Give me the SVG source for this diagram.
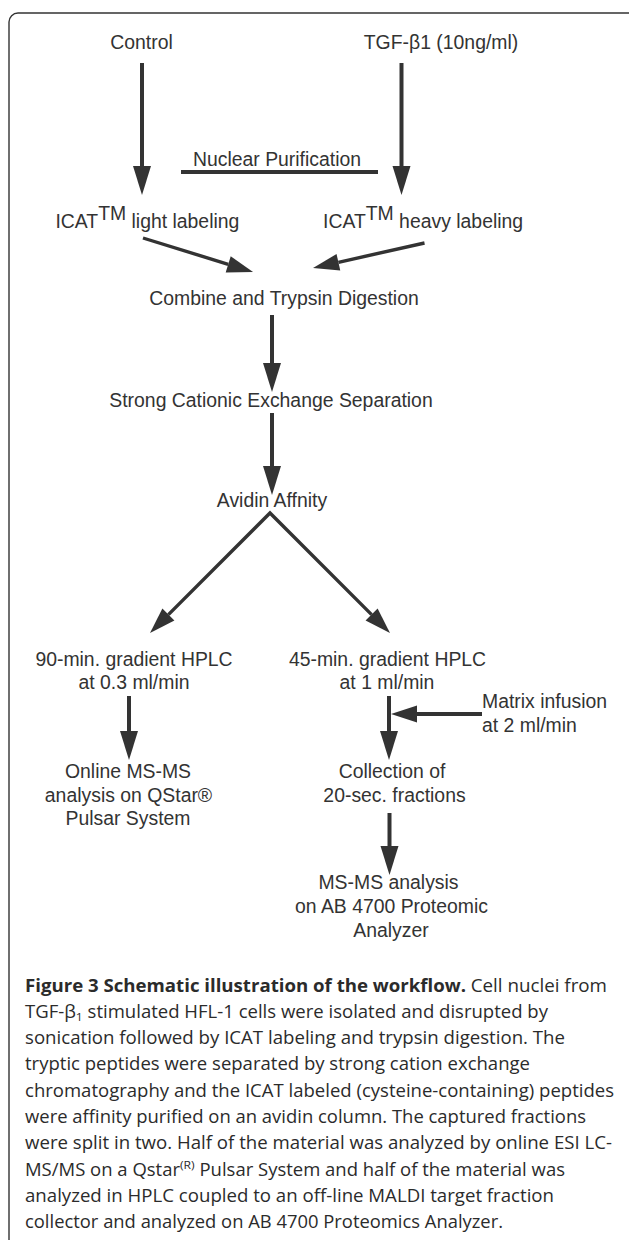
<svg xmlns="http://www.w3.org/2000/svg" width="629" height="1240" viewBox="0 0 629 1240">
<style>
.t{font-family:"Liberation Sans",Arial,sans-serif;font-size:19.4px;fill:#333}
.m{text-anchor:middle}
.c{font-family:"Open Sans","Noto Sans",sans-serif;font-size:17.5px;fill:#2b2b2b}
.b{font-weight:700}
.ln{stroke:#333;stroke-width:4;fill:none}
.dg{stroke:#333;stroke-width:3.4;fill:none}
</style>
<defs>
<marker id="ah" markerUnits="userSpaceOnUse" viewBox="0 -10 30 20" markerWidth="30" markerHeight="20" refX="0" refY="0" orient="auto-start-reverse" overflow="visible">
<path d="M0,-9 L29,0 L0,9 Z" fill="#333"/>
</marker>
<marker id="ah2" markerUnits="userSpaceOnUse" viewBox="0 -10 30 20" markerWidth="30" markerHeight="20" refX="0" refY="0" orient="auto-start-reverse" overflow="visible">
<path d="M0,-8.5 L26,0 L0,8.5 Z" fill="#333"/>
</marker>
</defs>
<rect x="9" y="13" width="628" height="1250" rx="9" fill="none" stroke="#333" stroke-width="1.4"/>
<g id="connectors">
<line class="ln" x1="142" y1="63" x2="142" y2="166" marker-end="url(#ah)"/>
<line class="ln" x1="401.5" y1="63" x2="401.5" y2="166" marker-end="url(#ah)"/>
<line class="ln" x1="181" y1="172" x2="378" y2="172" stroke-width="3.5"/>
<line class="dg" x1="143" y1="238" x2="228.2" y2="264.3" marker-end="url(#ah2)"/>
<line class="dg" x1="424.5" y1="243" x2="338.4" y2="262.3" marker-end="url(#ah2)"/>
<line class="ln" x1="272" y1="315" x2="272" y2="363" marker-end="url(#ah)"/>
<line class="ln" x1="272" y1="413" x2="272" y2="466" marker-end="url(#ah)"/>
<path class="dg" d="M168.4,614.6 L270,513 L371.6,614.6" stroke-width="3" stroke-miterlimit="10" marker-start="url(#ah2)" marker-end="url(#ah2)"/>
<line class="ln" x1="129" y1="696" x2="129" y2="731" marker-end="url(#ah)"/>
<line class="ln" x1="389" y1="696" x2="389" y2="731" marker-end="url(#ah)"/>
<line class="ln" x1="482" y1="714" x2="417" y2="714" marker-end="url(#ah2)"/>
<line class="ln" x1="389.5" y1="813" x2="389.5" y2="846" marker-end="url(#ah)"/>
</g>
<g id="control"><text class="t m" x="141.5" y="49">Control</text></g>
<g id="tgf"><text class="t m" x="441" y="49">TGF-β1 (10ng/ml)</text></g>
<g id="nuclear"><text class="t m" x="277" y="166">Nuclear Purification</text></g>
<g id="icat-light"><text class="t" x="55.4" y="228">ICAT<tspan dy="-8">TM</tspan><tspan dy="8"> light labeling</tspan></text></g>
<g id="icat-heavy"><text class="t" x="323" y="228">ICAT<tspan dy="-8">TM</tspan><tspan dy="8"> heavy labeling</tspan></text></g>
<g id="combine"><text class="t m" x="284" y="305">Combine and Trypsin Digestion</text></g>
<g id="sce"><text class="t m" x="271" y="407">Strong Cationic Exchange Separation</text></g>
<g id="avidin"><text class="t m" x="272" y="507">Avidin Affnity</text></g>
<g id="hplc90"><text class="t m" x="134" y="666">90-min. gradient HPLC</text><text class="t m" x="134" y="689">at 0.3 ml/min</text></g>
<g id="hplc45"><text class="t m" x="387.5" y="666">45-min. gradient HPLC</text><text class="t m" x="387" y="689">at 1 ml/min</text></g>
<g id="matrix"><text class="t" x="482" y="708">Matrix infusion</text><text class="t" x="482" y="732">at 2 ml/min</text></g>
<g id="online"><text class="t m" x="128" y="778">Online MS-MS</text><text class="t m" x="128.5" y="802">analysis on QStar®</text><text class="t m" x="128" y="825">Pulsar System</text></g>
<g id="collection"><text class="t m" x="392" y="778">Collection of</text><text class="t m" x="394.5" y="802">20-sec. fractions</text></g>
<g id="msms"><text class="t m" x="388.5" y="889">MS-MS analysis</text><text class="t m" x="391.5" y="913">on AB 4700 Proteomic</text><text class="t m" x="391" y="937">Analyzer</text></g>
<g id="caption">
<text class="c b" x="25" y="991.5" textLength="441" lengthAdjust="spacingAndGlyphs">Figure 3 Schematic illustration of the workflow.</text>
<text class="c" x="470.7" y="991.5" textLength="136.3" lengthAdjust="spacingAndGlyphs">Cell nuclei from</text>
<text class="c" x="25" y="1017.8" textLength="523" lengthAdjust="spacingAndGlyphs">TGF-β<tspan font-size="11.5" dy="3">1</tspan><tspan dy="-3"> stimulated HFL-1 cells were isolated and disrupted by</tspan></text>
<text class="c" x="25" y="1044.1" textLength="540" lengthAdjust="spacingAndGlyphs">sonication followed by ICAT labeling and trypsin digestion. The</text>
<text class="c" x="25" y="1070.4" textLength="505" lengthAdjust="spacingAndGlyphs">tryptic peptides were separated by strong cation exchange</text>
<text class="c" x="25" y="1096.7" textLength="589" lengthAdjust="spacingAndGlyphs">chromatography and the ICAT labeled (cysteine-containing) peptides</text>
<text class="c" x="25" y="1123" textLength="561" lengthAdjust="spacingAndGlyphs">were affinity purified on an avidin column. The captured fractions</text>
<text class="c" x="25" y="1149.3" textLength="587" lengthAdjust="spacingAndGlyphs">were split in two. Half of the material was analyzed by online ESI LC-</text>
<text class="c" x="25" y="1175.6" textLength="540" lengthAdjust="spacingAndGlyphs">MS/MS on a Qstar<tspan font-size="11.5" dy="-7">(R)</tspan><tspan dy="7"> Pulsar System and half of the material was</tspan></text>
<text class="c" x="25" y="1201.9" textLength="529" lengthAdjust="spacingAndGlyphs">analyzed in HPLC coupled to an off-line MALDI target fraction</text>
<text class="c" x="25" y="1228.2" textLength="478" lengthAdjust="spacingAndGlyphs">collector and analyzed on AB 4700 Proteomics Analyzer.</text>
</g>
</svg>
